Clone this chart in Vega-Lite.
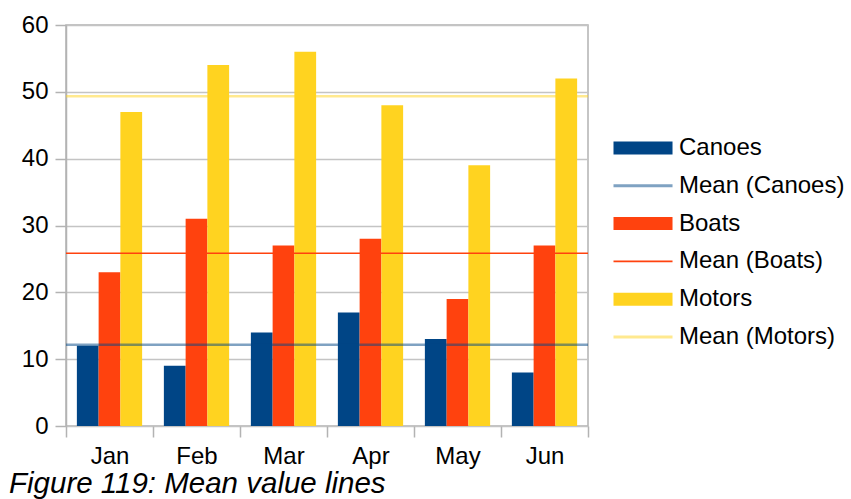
{
  "$schema": "https://vega.github.io/schema/vega-lite/v6.json",
  "width": 522,
  "height": 401,
  "autosize": "none",
  "padding": {"left": 66, "top": 25, "right": 263, "bottom": 73},
  "background": "white",
  "config": {
    "font": "Liberation Sans",
    "view": {"stroke": "#b3b3b3", "strokeWidth": 1.5},
    "axis": {
      "labelFont": "Liberation Sans",
      "labelFontSize": 24,
      "labelColor": "#000000",
      "tickColor": "#b3b3b3",
      "tickWidth": 1.5,
      "tickSize": 11,
      "gridColor": "#c4c4c4",
      "gridWidth": 1.5,
      "domainColor": "#b3b3b3",
      "domainWidth": 1.5
    }
  },
  "title": {
    "text": "Figure 119: Mean value lines",
    "orient": "bottom",
    "anchor": "start",
    "frame": "group",
    "dx": -57,
    "offset": 2,
    "font": "Liberation Sans",
    "fontSize": 29.5,
    "fontStyle": "italic",
    "fontWeight": "normal",
    "color": "#000000"
  },
  "layer": [
    {
      "data": {
        "values": [
          {"month": "Jan", "series": "Canoes", "value": 12},
          {"month": "Jan", "series": "Boats", "value": 23},
          {"month": "Jan", "series": "Motors", "value": 47},
          {"month": "Feb", "series": "Canoes", "value": 9},
          {"month": "Feb", "series": "Boats", "value": 31},
          {"month": "Feb", "series": "Motors", "value": 54},
          {"month": "Mar", "series": "Canoes", "value": 14},
          {"month": "Mar", "series": "Boats", "value": 27},
          {"month": "Mar", "series": "Motors", "value": 56},
          {"month": "Apr", "series": "Canoes", "value": 17},
          {"month": "Apr", "series": "Boats", "value": 28},
          {"month": "Apr", "series": "Motors", "value": 48},
          {"month": "May", "series": "Canoes", "value": 13},
          {"month": "May", "series": "Boats", "value": 19},
          {"month": "May", "series": "Motors", "value": 39},
          {"month": "Jun", "series": "Canoes", "value": 8},
          {"month": "Jun", "series": "Boats", "value": 27},
          {"month": "Jun", "series": "Motors", "value": 52}
        ]
      },
      "mark": {"type": "bar"},
      "encoding": {
        "x": {
          "field": "month",
          "type": "nominal",
          "sort": ["Jan", "Feb", "Mar", "Apr", "May", "Jun"],
          "scale": {"paddingInner": 0, "paddingOuter": 0},
          "axis": {
            "title": null,
            "labelAngle": 0,
            "tickBand": "extent",
            "labelPadding": 7,
            "domain": false,
            "grid": false
          }
        },
        "xOffset": {
          "field": "series",
          "type": "nominal",
          "sort": ["Canoes", "Boats", "Motors"],
          "scale": {"paddingOuter": 0.5, "paddingInner": 0}
        },
        "y": {
          "field": "value",
          "type": "quantitative",
          "stack": null,
          "scale": {"domain": [0, 60], "nice": false},
          "axis": {
            "title": null,
            "values": [0, 10, 20, 30, 40, 50, 60],
            "grid": true,
            "labelPadding": 7,
            "domain": true
          }
        },
        "color": {
          "field": "series",
          "type": "nominal",
          "scale": {
            "domain": ["Canoes", "Mean (Canoes)", "Boats", "Mean (Boats)", "Motors", "Mean (Motors)"],
            "range": ["#004586", "#004586", "#ff420e", "#ff420e", "#ffd320", "#ffd320"]
          },
          "legend": {
            "title": null,
            "orient": "none",
            "legendX": 542,
            "legendY": 111,
            "padding": 0,
            "symbolSize": 169,
            "labelOffset": 47,
            "labelLimit": 400,
            "labelFont": "Liberation Sans",
            "labelFontSize": 24,
            "labelColor": "#000000",
            "rowPadding": 13.8,
            "symbolStrokeWidth": 0,
            "encode": {
              "symbols": {
                "update": {
                  "shape": {"signal": "indexof(datum.value, 'Mean') === 0 ? (datum.value === 'Mean (Boats)' ? 'M-1,-0.12H8.08V0.12H-1Z' : 'M-1,-0.22H8.08V0.22H-1Z') : 'M-1,-1H8.08V1H-1Z'"},
                  "fill": {"scale": "color", "field": "value"},
                  "fillOpacity": {"signal": "datum.value === 'Mean (Canoes)' || datum.value === 'Mean (Motors)' ? 0.5 : 1"},
                  "opacity": {"value": 1},
                  "strokeWidth": {"value": 0}
                }
              }
            }
          }
        }
      }
    },
    {
      "data": {
        "values": [
          {"series": "Mean (Canoes)", "value": 12.17},
          {"series": "Mean (Boats)", "value": 25.83},
          {"series": "Mean (Motors)", "value": 49.33}
        ]
      },
      "mark": {"type": "rule"},
      "encoding": {
        "y": {"field": "value", "type": "quantitative"},
        "color": {"field": "series", "type": "nominal"},
        "opacity": {"condition": {"test": "datum.series === 'Mean (Boats)'", "value": 1}, "value": 0.5},
        "strokeWidth": {"condition": {"test": "datum.series === 'Mean (Boats)'", "value": 1.5}, "value": 2.5}
      }
    }
  ]
}
